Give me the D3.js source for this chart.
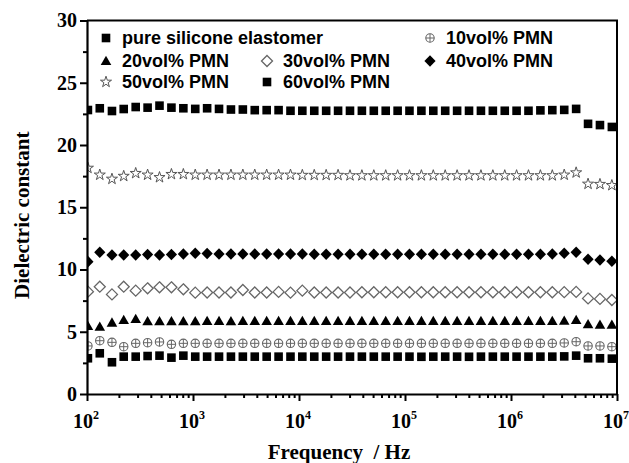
<!DOCTYPE html>
<html>
<head>
<meta charset="utf-8">
<script src="https://cdn.jsdelivr.net/npm/d3@7"></script>
<style>
    body { margin: 0; background: #fff; }
    svg { display: block; }
</style>
</head>
<body>
<svg id="chart" width="629" height="463"></svg>
<script>
// measurement frequencies (Hz), 9 points per decade
var freqs = [
    102, 132, 172, 222, 288, 373, 483, 626, 811,
    1050, 1359, 1760, 2280, 2953, 3825, 4955, 6418, 8313,
    10750, 13930, 18040, 23370, 30270, 39200, 50780, 65780, 85200,
    110200, 142800, 184900, 239500, 310200, 401800, 520500, 674200, 873300,
    1129000, 1462000, 1894000, 2453000, 3178000, 4117000, 5332000, 6907000, 8946000
];

var pureSilicone = [
    2.87, 3.27, 2.55, 3.00, 3.00, 3.05, 3.08, 2.92, 3.08,
    3.00, 3.00, 3.00, 3.00, 3.00, 3.00, 3.00, 3.00, 3.00,
    3.00, 3.00, 3.00, 3.00, 3.00, 3.00, 3.00, 3.00, 3.00,
    3.00, 2.99, 3.00, 3.00, 3.00, 2.99, 3.00, 3.00, 3.00,
    3.00, 3.00, 3.00, 3.00, 3.02, 3.08, 2.87, 2.87, 2.84
];
var pmn10 = [
    3.86, 4.28, 4.15, 3.80, 4.07, 4.12, 4.18, 3.99, 4.07,
    4.07, 4.07, 4.07, 4.07, 4.07, 4.07, 4.07, 4.07, 4.07,
    4.07, 4.07, 4.07, 4.07, 4.07, 4.07, 4.07, 4.07, 4.07,
    4.07, 4.07, 4.07, 4.07, 4.07, 4.07, 4.07, 4.07, 4.07,
    4.07, 4.07, 4.07, 4.07, 4.10, 4.20, 3.86, 3.86, 3.80
];
var pmn20 = [
    5.46, 5.40, 5.73, 5.94, 6.02, 5.84, 5.84, 5.84, 5.84,
    5.84, 5.86, 5.86, 5.84, 5.86, 5.86, 5.86, 5.86, 5.86,
    5.86, 5.86, 5.86, 5.86, 5.86, 5.86, 5.86, 5.86, 5.86,
    5.86, 5.86, 5.86, 5.86, 5.86, 5.86, 5.86, 5.86, 5.86,
    5.86, 5.86, 5.86, 5.86, 5.88, 5.94, 5.60, 5.56, 5.56
];
var pmn30 = [
    8.22, 8.62, 8.00, 8.62, 8.30, 8.49, 8.57, 8.57, 8.41,
    8.14, 8.15, 8.15, 8.15, 8.35, 8.15, 8.15, 8.20, 8.14,
    8.30, 8.15, 8.15, 8.15, 8.15, 8.17, 8.17, 8.17, 8.17,
    8.17, 8.17, 8.17, 8.17, 8.17, 8.17, 8.17, 8.17, 8.17,
    8.17, 8.17, 8.17, 8.17, 8.18, 8.20, 7.68, 7.64, 7.55
];
var pmn40 = [
    10.63, 11.38, 11.16, 11.16, 11.16, 11.20, 11.16, 11.20, 11.24,
    11.30, 11.28, 11.24, 11.24, 11.24, 11.24, 11.24, 11.24, 11.24,
    11.24, 11.22, 11.22, 11.22, 11.22, 11.22, 11.22, 11.22, 11.22,
    11.22, 11.22, 11.22, 11.22, 11.22, 11.22, 11.22, 11.22, 11.22,
    11.22, 11.22, 11.22, 11.25, 11.30, 11.38, 10.82, 10.76, 10.66
];
var pmn50 = [
    18.15, 17.60, 17.27, 17.50, 17.73, 17.60, 17.40, 17.65, 17.65,
    17.60, 17.60, 17.60, 17.60, 17.60, 17.60, 17.60, 17.60, 17.60,
    17.58, 17.58, 17.58, 17.58, 17.55, 17.55, 17.55, 17.55, 17.55,
    17.55, 17.55, 17.55, 17.55, 17.55, 17.55, 17.55, 17.55, 17.55,
    17.55, 17.55, 17.55, 17.55, 17.60, 17.78, 16.87, 16.85, 16.76
];
var pmn60 = [
    22.81, 22.95, 22.73, 22.89, 23.05, 23.00, 23.16, 23.00, 22.95,
    22.90, 22.95, 22.90, 22.85, 22.85, 22.80, 22.80, 22.80, 22.75,
    22.75, 22.75, 22.75, 22.75, 22.75, 22.75, 22.75, 22.75, 22.75,
    22.75, 22.75, 22.75, 22.75, 22.75, 22.75, 22.75, 22.75, 22.75,
    22.75, 22.75, 22.78, 22.80, 22.82, 22.90, 21.70, 21.60, 21.45
];

var seriesNames = ['pure silicone elastomer', '10vol% PMN', '20vol% PMN', '30vol% PMN',
                   '40vol% PMN', '50vol% PMN', '60vol% PMN'];
var xTickPowers = [2, 3, 4, 5, 6, 7];
var yTicks = [0, 5, 10, 15, 20, 25, 30];

(function (d3) {
    var svg = d3.select('#chart'),
        margin = {left: 87, right: 12, top: 20.5, bottom: 69},
        width = 629 - margin.left - margin.right,
        height = 463 - margin.top - margin.bottom,
        serif = '"Liberation Serif", "Times New Roman", serif';

    var x = d3.scaleLog().domain([100, 1e7]).range([margin.left, margin.left + width]),
        y = d3.scaleLinear().domain([0, 30]).range([margin.top + height, margin.top]);

    // marker drawers: each appends a marker centred at 0,0 into group g
    function square(g) {
        g.append('rect').attr('x', -4.3).attr('y', -4.3).attr('width', 8.6).attr('height', 8.6)
            .attr('fill', '#000');
    }
    function crossCircle(g) {
        g.append('circle').attr('r', 4.2).attr('fill', 'none')
            .attr('stroke', '#666').attr('stroke-width', 1.1);
        g.append('path').attr('d', 'M-4.2,0H4.2M0,-4.2V4.2')
            .attr('stroke', '#666').attr('stroke-width', 1);
    }
    function triangle(g) {
        g.append('path').attr('d', 'M0,-5.3L5.3,4L-5.3,4Z').attr('fill', '#000');
    }
    function openDiamond(g) {
        g.append('path').attr('d', 'M0,-5.5L5.5,0L0,5.5L-5.5,0Z').attr('fill', 'none')
            .attr('stroke', '#666').attr('stroke-width', 1.3);
    }
    function diamond(g) {
        g.append('path').attr('d', 'M0,-5.8L5.6,0L0,5.8L-5.6,0Z').attr('fill', '#000');
    }
    function star(g) {
        g.append('path').attr('d', d3.symbol().type(d3.symbolStar).size(38)())
            .attr('fill', 'none').attr('stroke', '#555').attr('stroke-width', 1);
    }

    var series = [
        {name: seriesNames[0], values: pureSilicone, marker: square},
        {name: seriesNames[1], values: pmn10, marker: crossCircle},
        {name: seriesNames[2], values: pmn20, marker: triangle},
        {name: seriesNames[3], values: pmn30, marker: openDiamond},
        {name: seriesNames[4], values: pmn40, marker: diamond},
        {name: seriesNames[5], values: pmn50, marker: star},
        {name: seriesNames[6], values: pmn60, marker: square}
    ];

    svg.append('clipPath').attr('id', 'plotClip')
        .append('rect')
        .attr('x', margin.left).attr('y', margin.top - 10)
        .attr('width', width).attr('height', height + 10);

    // data points
    var plot = svg.append('g').attr('clip-path', 'url(#plotClip)');
    series.forEach(function (s) {
        plot.append('g').selectAll('g')
            .data(s.values)
            .enter().append('g')
            .attr('transform', function (d, i) {
                return 'translate(' + x(freqs[i]) + ',' + y(d) + ')';
            })
            .each(function () { s.marker(d3.select(this)); });
    });

    // frame (top and right)
    svg.append('path')
        .attr('d', 'M' + margin.left + ',' + margin.top + 'H' + (margin.left + width) +
                   'V' + (margin.top + height))
        .attr('fill', 'none').attr('stroke', '#000').attr('stroke-width', 2);

    // x axis with minor ticks
    var minor = [];
    xTickPowers.slice(0, -1).forEach(function (p) {
        for (var m = 2; m < 10; m++) { minor.push(m * Math.pow(10, p)); }
    });
    var xAxis = svg.append('g').attr('transform', 'translate(0,' + (margin.top + height) + ')');
    xAxis.append('g')
        .call(d3.axisBottom(x).tickValues(minor).tickSize(4).tickFormat(''))
        .call(function (g) { g.select('.domain').remove(); });
    xAxis.append('g')
        .call(d3.axisBottom(x).tickValues(xTickPowers.map(function (p) { return Math.pow(10, p); }))
            .tickSize(7).tickSizeOuter(0).tickFormat(''));
    xAxis.selectAll('line').attr('stroke', '#000').attr('stroke-width', 2);
    xAxis.selectAll('.domain').attr('stroke', '#000').attr('stroke-width', 2.2);

    var xLabels = svg.append('g')
        .attr('font-family', serif)
        .attr('font-weight', 'bold');
    xTickPowers.forEach(function (p) {
        var t = xLabels.append('text')
            .attr('x', x(Math.pow(10, p)) - 1)
            .attr('y', margin.top + height + 34)
            .attr('text-anchor', 'middle')
            .attr('font-size', 20);
        t.append('tspan').text('10');
        t.append('tspan').attr('font-size', 12).attr('dy', -9).text(p);
    });

    // y axis with minor ticks
    var yAxis = svg.append('g').attr('transform', 'translate(' + margin.left + ',0)');
    yAxis.append('g')
        .call(d3.axisLeft(y).tickValues(d3.range(2.5, 30, 5)).tickSize(4).tickFormat(''))
        .call(function (g) { g.select('.domain').remove(); });
    yAxis.append('g')
        .call(d3.axisLeft(y).tickValues(yTicks).tickSize(7).tickSizeOuter(0).tickPadding(3))
        .call(function (g) {
            g.selectAll('text')
                .attr('font-family', serif)
                .attr('font-weight', 'bold')
                .attr('font-size', 20)
                .attr('fill', '#000');
        });
    yAxis.selectAll('line').attr('stroke', '#000').attr('stroke-width', 2);
    yAxis.selectAll('.domain').attr('stroke', '#000').attr('stroke-width', 2.2);

    // axis titles
    svg.append('text')
        .attr('x', 339).attr('y', 459)
        .attr('text-anchor', 'middle')
        .attr('font-family', serif)
        .attr('font-weight', 'bold').attr('font-size', 21)
        .attr('xml:space', 'preserve')
        .text('Frequency  / Hz');
    svg.append('text')
        .attr('transform', 'translate(29,' + (margin.top + height / 2 + 8) + ') rotate(-90)')
        .attr('text-anchor', 'middle')
        .attr('font-family', serif)
        .attr('font-weight', 'bold').attr('font-size', 21)
        .text('Dielectric constant');

    // legend
    var legendPos = [[106, 38], [430, 38], [106, 61], [267, 61], [430, 61], [106, 82], [267, 82]];
    var legend = svg.append('g')
        .attr('font-family', '"Liberation Sans", Arial, sans-serif')
        .attr('font-weight', 'bold').attr('font-size', 18);
    series.forEach(function (s, i) {
        var item = legend.append('g')
            .attr('transform', 'translate(' + legendPos[i][0] + ',' + legendPos[i][1] + ')');
        s.marker(item.append('g'));
        item.append('text').attr('x', 16).attr('dy', '0.36em').text(s.name);
    });
}(window.d3));
</script>
</body>
</html>
